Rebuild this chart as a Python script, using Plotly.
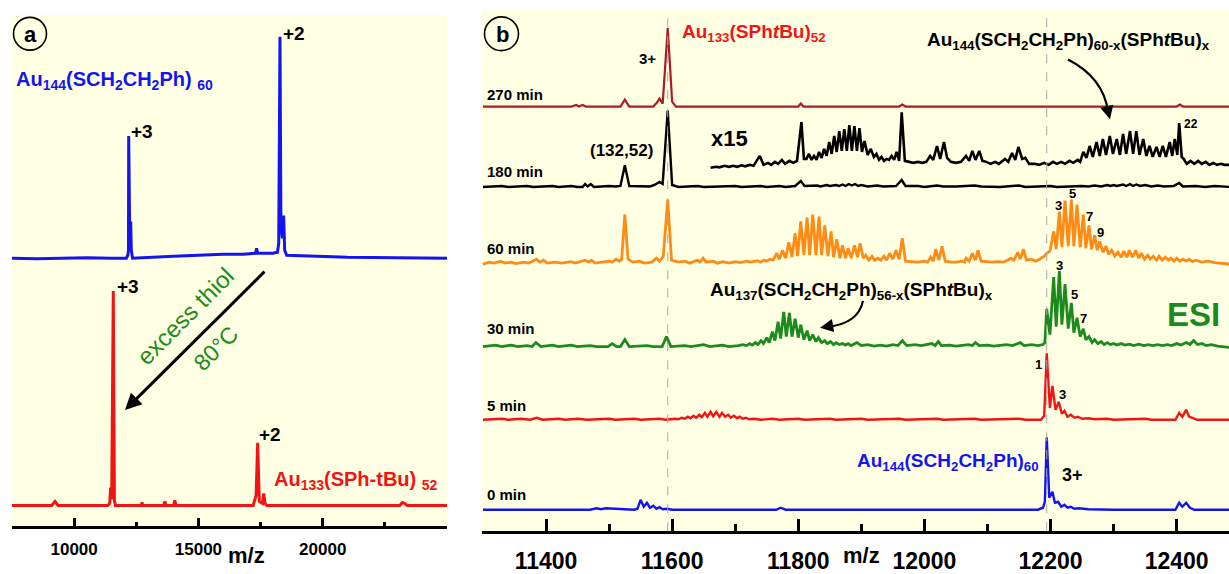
import plotly.graph_objects as go

W, H = 1229, 574

# ---------------- DATA ----------------
# Panel a: (m/z, relative intensity)
A_AU144 = [(7500,0),(8500,-0.5),(9500,0),(10500,0.5),(11500,0),(12100,0),(12160,3),(12185,8),(12195,123),(12210,20),(12240,12),(12275,37),(12300,8),(12350,0),(13000,1),(14000,2),(15000,3),(16000,4),(16800,4),(17300,5),(17340,10),(17380,5),(18000,5),(18180,6),(18230,15),(18281,223),(18320,30),(18380,20),(18429,43),(18470,8),(18550,3),(19500,2),(21000,1),(23000,0.5),(25000,0)]
A_AU133 = [(7500,0),(8500,0),(9100,0),(9230,4),(9350,0),(11350,0),(11430,2),(11470,18),(11510,6),(11575,216),(11620,5),(11660,0),(12700,0),(12730,3),(12760,0),(13600,0),(13650,4),(13700,0),(14000,0),(14050,5),(14100,0),(17200,0),(17250,4),(17320,10),(17383,63),(17450,4),(17580,2),(17625,12),(17680,2),(17750,0),(23100,0),(23200,3),(23300,2),(23400,0),(25000,0)]

# Panel b: (m/z, relative intensity) per reaction time
B_0MIN = [(11300,0),(11470,0),(11480,1.5),(11487,0.5),(11495,1.5),(11540,0),(11545,1),(11550,10),(11555,3),(11560,7),(11565,2),(11570,4),(11575,1),(11580,2.5),(11585,0.5),(11592,1),(11600,0),(11765,0),(11772,2),(11780,0),(12180,0),(12188,2),(12191,8),(12194,73),(12198,12),(12203,18),(12207,7),(12212,8),(12217,3),(12222,5),(12227,2),(12232,3),(12238,1),(12245,1.5),(12260,0.5),(12300,0),(12398,0),(12404,7),(12409,3),(12415,7),(12421,2),(12428,0),(12485,0)]
B_5MIN = [(11300,0),(11330,1),(11340,0),(11360,1),(11375,0),(11385,2),(11395,0),(11420,1),(11430,0),(11450,1),(11465,0),(11500,1),(11510,0),(11540,1),(11550,0),(11580,1),(11590,0),(11605,1),(11610,0.5),(11615,2),(11620,1),(11625,3),(11629,1.5),(11634,4),(11638,2),(11643,5),(11647,2.5),(11652,7),(11656,3),(11661,8),(11665,3.5),(11670,8),(11675,3),(11679,7),(11684,3),(11689,5),(11693,2),(11698,4),(11703,1.5),(11707,3),(11712,1),(11717,2),(11722,0.5),(11730,1),(11740,0),(11760,1),(11770,0),(11800,1),(11810,0),(11850,1),(11860,0),(11900,1),(11910,0),(11960,1),(11970,0),(12020,1),(12030,0),(12080,1),(12090,0),(12150,1),(12160,0),(12185,0),(12190,4),(12194,67),(12199,12),(12203,34),(12208,10),(12213,18),(12218,6),(12222,9),(12227,3),(12232,5),(12238,2),(12243,3),(12250,1),(12260,1.5),(12270,0.5),(12290,1),(12300,0),(12350,1),(12360,0),(12398,0),(12404,7),(12409,3),(12415,10),(12420,3),(12425,2),(12432,0),(12485,0)]
B_30MIN = [(11300,0),(11320,1.5),(11330,0),(11345,1.5),(11355,0),(11370,1),(11378,0),(11384,4),(11392,0),(11410,1.5),(11420,0),(11440,1.5),(11450,0),(11470,1),(11480,0),(11498,0),(11505,3),(11512,0),(11518,0),(11525,7),(11532,0),(11560,1),(11570,0),(11584,0),(11591,10),(11598,0),(11620,1),(11630,0),(11650,2),(11660,0),(11680,1.5),(11690,0),(11705,1),(11712,2),(11718,1),(11723,3),(11727,1.5),(11732,4),(11736,2),(11741,6),(11745,3),(11750,9),(11754,4),(11759,15),(11763,6),(11768,25),(11772,8),(11777,35),(11781,10),(11786,34),(11790,10),(11795,28),(11800,9),(11804,22),(11809,7),(11814,16),(11818,6),(11823,12),(11828,5),(11832,9),(11837,4),(11842,6),(11846,3),(11851,5),(11856,2),(11860,4),(11865,2),(11870,3),(11875,1.5),(11879,3),(11884,1),(11893,4),(11900,1),(11910,2),(11920,0.5),(11930,1.5),(11940,0.5),(11950,2),(11958,1),(11965,6),(11972,1),(11985,2),(11995,1),(12012,3),(12017,1),(12022,5),(12027,1),(12040,1.5),(12050,0.5),(12070,2),(12076,1),(12081,4),(12087,1),(12100,1.5),(12110,0.5),(12130,2),(12140,1),(12152,4),(12158,1),(12170,2),(12180,1),(12188,2),(12191,4),(12194,38),(12199,12),(12205,70),(12209,20),(12214,76),(12218,22),(12223,63),(12228,18),(12233,44),(12237,14),(12242,29),(12247,10),(12252,18),(12256,7),(12261,10),(12266,4),(12270,7),(12275,3),(12280,5),(12285,2),(12290,4),(12295,2),(12300,3),(12305,1.5),(12312,3),(12318,1.5),(12325,2.5),(12332,1),(12340,2.5),(12348,1),(12355,2),(12362,1),(12370,2),(12378,1),(12385,2),(12392,1),(12400,3),(12407,1.5),(12415,4),(12421,2),(12427,6),(12433,2),(12440,3),(12447,1),(12455,2),(12465,0.5),(12475,0),(12485,-1)]
B_60MIN = [(11300,-1),(11310,1),(11318,0),(11328,2),(11335,0),(11345,1),(11352,-0.5),(11365,1),(11372,0),(11385,4),(11390,1),(11396,3),(11402,0),(11415,1),(11425,0),(11440,1.5),(11447,0),(11462,3),(11468,1),(11472,3),(11478,0),(11490,1),(11500,2),(11505,1),(11511,4),(11516,2),(11520,4),(11525,49),(11530,4),(11538,1),(11548,2),(11556,0),(11568,1),(11575,5),(11580,2),(11586,7),(11593,64),(11599,3),(11610,1),(11620,2),(11628,0),(11640,3),(11644,1),(11649,5),(11654,1),(11665,2),(11672,0),(11680,1.5),(11690,0),(11700,1.5),(11708,0.5),(11718,2),(11725,1),(11735,2.5),(11740,1),(11745,3),(11750,2),(11755,4),(11760,3),(11766,10),(11770,4),(11775,13),(11780,5),(11785,21),(11790,6),(11795,30),(11799,7),(11804,42),(11809,8),(11814,46),(11818,8),(11823,49),(11828,8),(11833,47),(11837,8),(11842,38),(11847,7),(11852,32),(11856,6),(11861,24),(11866,5),(11870,18),(11875,5),(11879,15),(11884,5),(11889,18),(11894,6),(11898,20),(11903,5),(11907,8),(11912,3),(11917,7),(11921,3),(11926,5),(11931,3),(11936,7),(11940,3),(11945,10),(11950,4),(11955,13),(11960,4),(11965,25),(11970,2),(11980,1.5),(11990,1),(12000,2),(12005,1),(12010,6),(12014,2),(12018,14),(12023,3),(12028,17),(12033,2),(12042,1),(12050,1),(12060,2),(12064,1),(12066,5),(12071,2),(12076,10),(12081,3),(12085,13),(12090,2),(12098,1.5),(12108,1),(12118,1.5),(12125,1),(12132,3),(12137,5),(12142,3),(12148,11),(12152,4),(12157,14),(12162,3),(12170,4),(12176,2),(12183,4),(12190,7),(12194,10),(12199,12),(12205,32),(12209,14),(12214,52),(12218,16),(12223,63),(12228,17),(12233,64),(12237,17),(12242,59),(12247,16),(12252,49),(12256,15),(12261,38),(12265,14),(12270,28),(12274,13),(12278,22),(12283,11),(12288,17),(12292,9),(12297,13),(12302,7),(12307,11),(12312,6),(12316,12),(12321,6),(12325,13),(12330,6),(12335,13),(12340,5),(12344,10),(12349,4),(12354,8),(12358,4),(12363,7),(12368,3),(12372,7),(12377,3),(12382,6),(12387,3),(12391,5),(12396,2),(12400,5),(12405,2),(12410,4),(12415,2),(12420,4),(12425,1.5),(12430,3),(12440,1),(12450,2),(12460,0.5),(12470,0),(12485,-1)]
B_180MIN = [(11300,0),(11330,1),(11340,0),(11370,1),(11380,0),(11410,1),(11420,0),(11440,1),(11450,0),(11458,0),(11462,3),(11466,0.5),(11471,3),(11476,0),(11500,1),(11510,0.5),(11518,1),(11525,22),(11532,1),(11550,1),(11565,0.5),(11572,2),(11580,5),(11585,3),(11593,77),(11600,2),(11610,0),(11640,1),(11650,0),(11700,1),(11710,0),(11740,1),(11750,0),(11770,1),(11780,0),(11795,1),(11804,6),(11810,1),(11830,1.5),(11835,0.5),(11845,2),(11850,1),(11860,2),(11865,1),(11870,2.5),(11875,1),(11880,3),(11885,1.5),(11890,3),(11895,1),(11900,2),(11910,0.5),(11925,1.5),(11935,0.5),(11955,1),(11964,7),(11970,1),(11990,1),(12000,0),(12020,1.5),(12030,0.5),(12050,0.5),(12080,1.5),(12090,0.5),(12120,0),(12150,1.5),(12160,0),(12200,1),(12210,0),(12250,1),(12260,0.5),(12270,1.5),(12280,0.5),(12290,2),(12295,1),(12300,2),(12305,1),(12315,2.5),(12320,1),(12326,3),(12331,1),(12336,2.5),(12342,1),(12350,2),(12360,0.5),(12370,1.5),(12380,0.5),(12395,1),(12404,4),(12410,0.5),(12430,1),(12445,0),(12460,1),(12485,0)]
B_180MIN_X15 = [(11661,-1),(11670,0),(11675,-0.5),(11683,1),(11690,0),(11697,1),(11703,0),(11710,1.5),(11716,0.5),(11723,2),(11729,1),(11739,11),(11745,2),(11752,4),(11757,2),(11763,5),(11768,3),(11774,7),(11779,3),(11786,6),(11792,4),(11798,6),(11805,45),(11809,8),(11813,8),(11817,13),(11821,7),(11825,11),(11829,7),(11833,15),(11837,9),(11841,18),(11845,11),(11849,25),(11853,13),(11857,31),(11861,15),(11865,36),(11869,16),(11873,38),(11877,16),(11881,42),(11885,16),(11889,41),(11893,16),(11897,39),(11901,15),(11905,26),(11910,12),(11915,18),(11920,10),(11924,13),(11928,7),(11932,10),(11936,6),(11940,8),(11944,7),(11948,11),(11952,7),(11956,15),(11960,6),(11964,55),(11969,6),(11975,5),(11982,4),(11990,5),(11997,4),(12003,5),(12009,11),(12014,7),(12020,21),(12025,8),(12031,25),(12036,9),(12042,5),(12050,4),(12058,5),(12066,11),(12071,6),(12076,16),(12081,7),(12087,16),(12092,6),(12098,5),(12105,3),(12112,5),(12118,3),(12128,8),(12133,5),(12139,14),(12144,7),(12149,20),(12155,8),(12160,9),(12166,3),(12175,3),(12182,2),(12190,4),(12197,2),(12204,5),(12210,3),(12217,5),(12223,3),(12230,6),(12236,4),(12243,7),(12247,5),(12252,15),(12257,9),(12262,21),(12267,10),(12273,25),(12278,11),(12283,28),(12288,12),(12294,31),(12299,13),(12305,28),(12310,12),(12315,33),(12320,13),(12326,36),(12331,13),(12336,36),(12341,12),(12347,28),(12352,11),(12357,21),(12362,10),(12368,20),(12373,10),(12378,21),(12383,10),(12389,25),(12393,11),(12397,28),(12401,12),(12404,44),(12408,10),(12411,8),(12416,3),(12422,6),(12428,3),(12434,6),(12440,3),(12446,5),(12452,2),(12458,4),(12464,2),(12470,3),(12476,2),(12485,2)]
B_270MIN = [(11300,0),(11350,0),(11440,0),(11448,1.5),(11452,0),(11458,1.5),(11463,0),(11518,0),(11525,7),(11532,0),(11570,0),(11576,4),(11580,8),(11585,3),(11593,79),(11600,5),(11606,0),(11680,0),(11800,0),(11804,3),(11808,0),(11960,0),(11965,2),(11970,0),(12400,0),(12405,2),(12410,0),(12485,0)]

TIME_LABELS = ["270 min", "180 min", "60 min", "30 min", "5 min", "0 min"]
A_TICKS = [10000, 15000, 20000]
A_MINOR = [12500, 17500, 22500]
B_TICKS = [11400, 11600, 11800, 12000, 12200, 12400]
B_MINOR = [11500, 11700, 11900, 12100, 12300]
B_MARKS = [11593, 12194]

# ---------------- STYLE / LAYOUT ----------------
FONT = "Liberation Sans, Arial, sans-serif"
CREAM = "#FFFFE4"
BLUE, RED, GREEN, ORANGE, DKRED = "#1414F0", "#F21414", "#1C8A1C", "#FF8A14", "#A81E24"

def px(x):
    return x / W

def py(y):
    return 1 - y / H

fig = go.Figure()

def add(data, offset, color, xa, ya, width=2.6):
    xs = [p[0] for p in data]
    ys = [p[1] + offset for p in data]
    fig.add_trace(go.Scatter(x=xs, y=ys, mode="lines", xaxis=xa, yaxis=ya,
                             line=dict(color=color, width=width),
                             hoverinfo="skip", showlegend=False))

# panel a (y units: 0 at axis)
add(A_AU144, 270, BLUE, "x", "y", 3)
add(A_AU133, 21, RED, "x", "y", 3)
# panel b
add(B_270MIN, 427.7, DKRED, "x2", "y2", 2.2)
add(B_180MIN, 346.7, "black", "x2", "y2", 2.4)
add(B_180MIN_X15, 367, "black", "x2", "y2", 2.6)
add(B_60MIN, 270, ORANGE, "x2", "y2", 2.8)
add(B_30MIN, 186, GREEN, "x2", "y2", 2.8)
add(B_5MIN, 112.3, RED, "x2", "y2", 2.4)
add(B_0MIN, 21.7, BLUE, "x2", "y2", 2.4)

axis_common = dict(showline=True, linecolor="black", linewidth=3, ticks="inside",
                   tickcolor="black", tickwidth=3, showgrid=False, zeroline=False,
                   mirror=False, tickmode="array")

fig.update_layout(
    width=W, height=H, autosize=False,
    margin=dict(l=0, r=0, t=0, b=0),
    paper_bgcolor="white", plot_bgcolor=CREAM,
    font=dict(family=FONT, color="black"),
    xaxis=dict(domain=[px(12), px(447)], range=[7500, 25000], anchor="y",
               tickvals=A_TICKS, ticktext=[str(v) for v in A_TICKS], ticklen=8,
               minor=dict(tickvals=A_MINOR, ticks="inside", ticklen=4, tickwidth=3, tickcolor="black"),
               tickfont=dict(size=17, family=FONT, weight="bold"), ticklabelstandoff=5,
               **axis_common),
    yaxis=dict(domain=[py(530), py(15)], range=[0, 515], visible=False, anchor="x"),
    xaxis2=dict(domain=[px(482), 1], range=[11298.5, 12483], anchor="y2",
                tickvals=B_TICKS, ticktext=[str(v) for v in B_TICKS], ticklen=12,
                minor=dict(tickvals=B_MINOR, ticks="inside", ticklen=7, tickwidth=3, tickcolor="black"),
                tickfont=dict(size=23, family=FONT, weight="bold"), ticklabelstandoff=7,
                **axis_common),
    yaxis2=dict(domain=[py(535), py(10)], range=[0, 525], visible=False, anchor="x2"),
)

shapes = []
for m in B_MARKS:
    shapes.append(dict(type="line", xref="x2", yref="paper", x0=m, x1=m, y0=py(535), y1=py(10),
                       line=dict(color="#A8A8A8", width=1, dash="dash")))
# circled panel letters
for cx, cy, r in [(30, 34, 16.5), (501.5, 34, 17)]:
    shapes.append(dict(type="circle", xref="paper", yref="paper",
                       x0=px(cx - r), x1=px(cx + r), y0=py(cy + r), y1=py(cy - r),
                       line=dict(color="black", width=1.6)))

def qpath(p0, c, p1):
    return "M {} {} Q {} {} {} {}".format(px(p0[0]), py(p0[1]), px(c[0]), py(c[1]), px(p1[0]), py(p1[1]))

shapes.append(dict(type="path", xref="paper", yref="paper",
                   path=qpath((1068, 60), (1103, 78), (1108, 112)), line=dict(color="black", width=2.2)))
shapes.append(dict(type="path", xref="paper", yref="paper",
                   path=qpath((863, 303), (858, 326), (828, 329)), line=dict(color="black", width=2.2)))
fig.update_layout(shapes=shapes)

ann = []

def txt(x, y, s, size, color="black", xanchor="center", yanchor="middle", bold=True, angle=0):
    ann.append(dict(x=px(x), y=py(y), xref="paper", yref="paper", text=s, showarrow=False,
                    xanchor=xanchor, yanchor=yanchor, textangle=angle,
                    font=dict(size=size, color=color, family=FONT, weight="bold" if bold else "normal")))

def arrow(x, y, ax, ay, width, size=1.0):
    ann.append(dict(x=px(x), y=py(y), xref="paper", yref="paper", text="", showarrow=True,
                    ax=ax, ay=ay, arrowhead=2, arrowsize=size, arrowwidth=width, arrowcolor="black"))

# panel a
txt(30, 35, "a", 22)
txt(294, 34, "+2", 19)
txt(142, 132, "+3", 19)
txt(128, 289, "+3", 19)
txt(270, 438, "+2", 19)
txt(14, 81, "Au<sub>144</sub>(SCH<sub>2</sub>CH<sub>2</sub>Ph) <sub>60</sub>", 20, BLUE, xanchor="left")
txt(272, 484, "Au<sub>133</sub>(SPh-tBu) <sub>52</sub>", 20, RED, xanchor="left")
txt(185, 319, "excess thiol", 24, "#1C8A1C", bold=False, angle=-45)
txt(215, 351, "80°C", 23, "#1C8A1C", bold=False, angle=-45)
arrow(125, 413, 141, -140, 3, 1.1)

# panel b
txt(502, 35, "b", 22)
txt(754, 33, "Au<sub>133</sub>(SPh<i>t</i>Bu)<sub>52</sub>", 19, RED)
txt(647, 59, "3+", 15)
txt(621, 152, "(132,52)", 17)
txt(730, 139, "x15", 22)
txt(1068, 41, "Au<sub>144</sub>(SCH<sub>2</sub>CH<sub>2</sub>Ph)<sub>60-x</sub>(SPh<i>t</i>Bu)<sub>x</sub>", 19)
txt(1191, 125, "22", 12)
txt(1058, 207, "3", 13); txt(1072, 195, "5", 13); txt(1089, 218, "7", 13); txt(1100, 234, "9", 13)
txt(1059, 267, "3", 13); txt(1074, 297, "5", 13); txt(1083, 321, "7", 13)
txt(1193, 317, "ESI", 33, GREEN)
txt(851, 293, "Au<sub>137</sub>(SCH<sub>2</sub>CH<sub>2</sub>Ph)<sub>56-x</sub>(SPh<i>t</i>Bu)<sub>x</sub>", 19)
txt(1038, 367, "1", 13); txt(1062, 397, "3", 13)
txt(948, 465, "Au<sub>144</sub>(SCH<sub>2</sub>CH<sub>2</sub>Ph)<sub>60</sub>", 19, BLUE)
txt(1072, 478, "3+", 18)
for lab, yy in zip(TIME_LABELS, [95, 173, 250, 331, 408, 498]):
    txt(485, yy, lab, 15, xanchor="left")
arrow(1110, 120, -3, -12, 2.2, 1.2)
arrow(820, 330, 9, -1.5, 2.2, 1.2)

# axis titles
txt(246, 574, "m/z", 22, yanchor="bottom")
txt(861, 574, "m/z", 22, yanchor="bottom")

fig.update_layout(annotations=ann)

fig.write_html("out.html", config={"displayModeBar": False},
               post_script="document.body.style.margin='0';document.body.style.overflow='hidden';")
